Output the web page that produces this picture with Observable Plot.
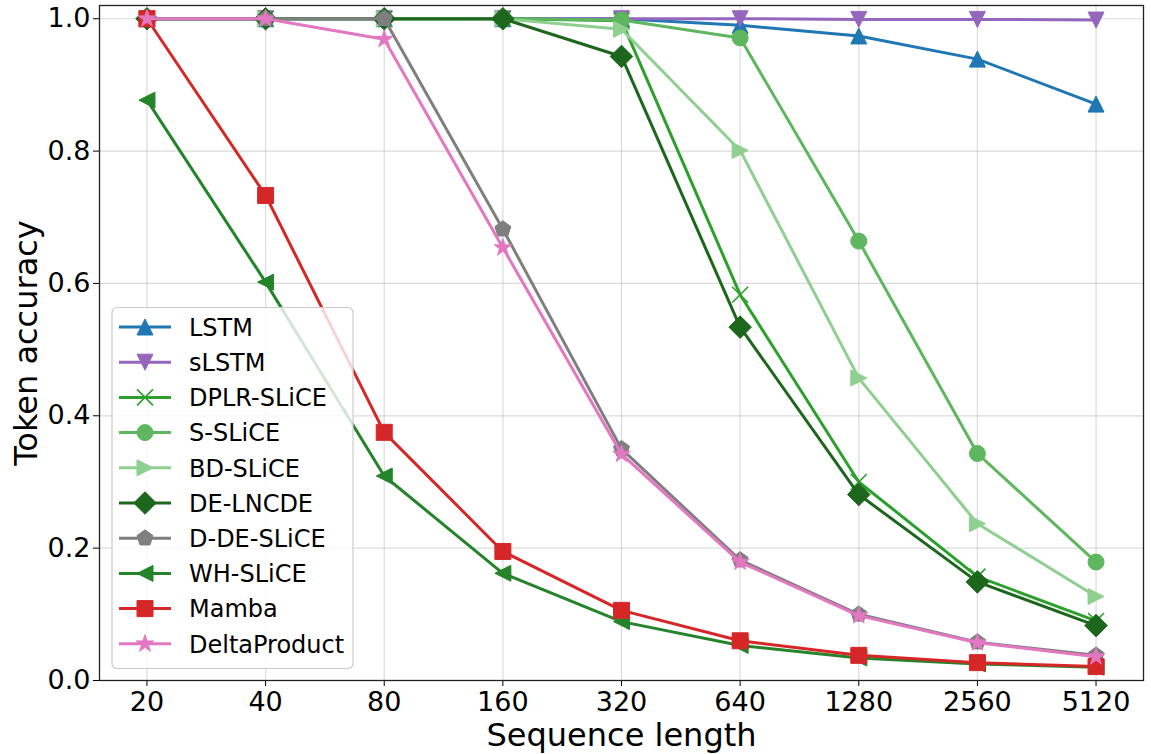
<!DOCTYPE html>
<html><head><meta charset="utf-8">
<script src="https://cdn.jsdelivr.net/npm/d3@7"></script>
<script src="https://cdn.jsdelivr.net/npm/@observablehq/plot@0.6"></script>
<style>
body{margin:0;background:#fff;}
svg{font-family:"DejaVu Sans",sans-serif;}
</style>
</head><body><div id="chart"></div>
<script>
// ---- data ----
const lengths = [20, 40, 80, 160, 320, 640, 1280, 2560, 5120];
const yTicks = [0, 0.2, 0.4, 0.6, 0.8, 1.0];
const lstm         = [1.0, 1.0, 1.0, 1.0, 1.0, 0.990, 0.974, 0.939, 0.871];
const sLstm        = [1.0, 1.0, 1.0, 1.0, 1.0, 1.0, 0.999, 0.999, 0.998];
const dplrSlice    = [1.0, 1.0, 1.0, 1.0, 0.997, 0.583, 0.300, 0.157, 0.090];
const sSlice       = [1.0, 1.0, 1.0, 1.0, 0.998, 0.971, 0.664, 0.343, 0.179];
const bdSlice      = [1.0, 1.0, 1.0, 1.0, 0.984, 0.801, 0.457, 0.237, 0.127];
const deLncde      = [1.0, 1.0, 1.0, 1.0, 0.943, 0.534, 0.281, 0.149, 0.083];
const dDeSlice     = [1.0, 1.0, 1.0, 0.682, 0.350, 0.182, 0.100, 0.058, 0.038];
const whSlice      = [0.877, 0.602, 0.309, 0.162, 0.089, 0.053, 0.034, 0.025, 0.020];
const mamba        = [1.0, 0.733, 0.375, 0.195, 0.106, 0.060, 0.038, 0.027, 0.021];
const deltaProduct = [1.0, 1.0, 0.969, 0.654, 0.342, 0.179, 0.098, 0.057, 0.036];

// ---- marker shapes ----
function poly(pts) {
  return {draw(ctx, size) {
    const r = Math.sqrt(size / Math.PI);
    ctx.moveTo(pts[0][0] * r, pts[0][1] * r);
    for (let i = 1; i < pts.length; i++) ctx.lineTo(pts[i][0] * r, pts[i][1] * r);
    ctx.closePath();
  }};
}
const triUp = poly([[0, -1], [-1, 1], [1, 1]]);
const triDown = poly([[0, 1], [-1, -1], [1, -1]]);
const triRight = poly([[1, 0], [-1, -1], [-1, 1]]);
const triLeft = poly([[-1, 0], [1, -1], [1, 1]]);
const square = poly([[-1, -1], [1, -1], [1, 1], [-1, 1]]);
const diamond = poly([[0, -1.41], [1.41, 0], [0, 1.41], [-1.41, 0]]);
const pentagon = poly(d3.range(5).map(k => {
  const a = -Math.PI / 2 + k * 2 * Math.PI / 5;
  return [Math.cos(a) * 1.05, Math.sin(a) * 1.05];
}));
const star = poly(d3.range(10).map(k => {
  const a = -Math.PI / 2 + k * Math.PI / 5;
  const rr = k % 2 === 0 ? 1.15 : 0.44;
  return [Math.cos(a) * rr, Math.sin(a) * rr];
}));
const circle = {draw(ctx, size) {
  const r = Math.sqrt(size / Math.PI);
  ctx.moveTo(r, 0); ctx.arc(0, 0, r, 0, 2 * Math.PI);
}};
const times = {draw(ctx, size) {
  const r = Math.sqrt(size / Math.PI);
  ctx.moveTo(-r, -r); ctx.lineTo(r, r);
  ctx.moveTo(-r, r); ctx.lineTo(r, -r);
}};

const series = [
  {name: "LSTM", values: lstm, color: "#1f77b4", symbol: triUp},
  {name: "sLSTM", values: sLstm, color: "#9467bd", symbol: triDown},
  {name: "DPLR-SLiCE", values: dplrSlice, color: "#2ca02c", symbol: times, open: true},
  {name: "S-SLiCE", values: sSlice, color: "#5eb65e", symbol: circle},
  {name: "BD-SLiCE", values: bdSlice, color: "#8fcf8f", symbol: triRight},
  {name: "DE-LNCDE", values: deLncde, color: "#1d671d", symbol: diamond},
  {name: "D-DE-SLiCE", values: dDeSlice, color: "#7f7f7f", symbol: pentagon},
  {name: "WH-SLiCE", values: whSlice, color: "#24842a", symbol: triLeft},
  {name: "Mamba", values: mamba, color: "#d62728", symbol: square},
  {name: "DeltaProduct", values: deltaProduct, color: "#e377c2", symbol: star}
];

const R = 8;
const seriesMarks = series.flatMap(s => {
  const rows = lengths.map((L, i) => ({x: L, y: s.values[i]}));
  return [
    Plot.line(rows, {x: "x", y: "y", stroke: s.color, strokeWidth: 3}),
    Plot.dot(rows, {x: "x", y: "y", symbol: s.symbol, r: R,
      fill: s.open ? "none" : s.color, stroke: s.color, strokeWidth: s.open ? 1.6 : 1})
  ];
});

const plot = Plot.plot({
  width: 1151, height: 754,
  marginLeft: 99, marginRight: 8, marginTop: 5, marginBottom: 74,
  style: {fontFamily: "DejaVu Sans, sans-serif", fontSize: "27px", color: "black", background: "white"},
  x: {type: "log", base: 2, domain: [20 / 2 ** 0.4, 5120 * 2 ** 0.4]},
  y: {domain: [0, 1.02]},
  marks: [
    Plot.gridX(lengths, {stroke: "#b0b0b0", strokeOpacity: 0.45, strokeWidth: 1.2}),
    Plot.gridY(yTicks, {stroke: "#b0b0b0", strokeOpacity: 0.45, strokeWidth: 1.2}),
    Plot.axisX(lengths, {tickSize: 6, tickPadding: 5, tickFormat: d => String(d), label: null, fontSize: 27}),
    Plot.axisY(yTicks, {tickSize: 6, tickPadding: 3, tickFormat: d => d.toFixed(1), label: null, fontSize: 27}),
    ...seriesMarks,
    Plot.frame({stroke: "#222", strokeWidth: 1.3}),
    Plot.text(["Sequence length"], {frameAnchor: "bottom", dy: 55, lineAnchor: "middle", textAnchor: "middle", fontSize: 32, text: d => d}),
    Plot.text(["Token accuracy"], {frameAnchor: "left", dx: -73, rotate: -90, lineAnchor: "middle", textAnchor: "middle", fontSize: 32, text: d => d})
  ]
});

// ---- legend ----
const svg = d3.select(plot);
const g = svg.append("g");
g.append("rect").attr("x", 112).attr("y", 307.5).attr("width", 241).attr("height", 361)
  .attr("rx", 5).attr("fill", "white").attr("fill-opacity", 0.8)
  .attr("stroke", "#cccccc").attr("stroke-width", 1.2);
series.forEach((s, i) => {
  const y = 327 + i * 35.2;
  g.append("line").attr("x1", 119).attr("x2", 171).attr("y1", y).attr("y2", y)
    .attr("stroke", s.color).attr("stroke-width", 3);
  g.append("path").attr("d", d3.symbol(s.symbol, R * R * Math.PI)())
    .attr("transform", `translate(145,${y})`)
    .attr("fill", s.open ? "none" : s.color).attr("stroke", s.color)
    .attr("stroke-width", s.open ? 1.6 : 1);
  g.append("text").attr("x", 189).attr("y", y + 8.7).attr("font-size", 24)
    .attr("text-anchor", "start").attr("fill", "black").text(s.name);
});

document.getElementById("chart").appendChild(plot);
</script>
</body></html>
